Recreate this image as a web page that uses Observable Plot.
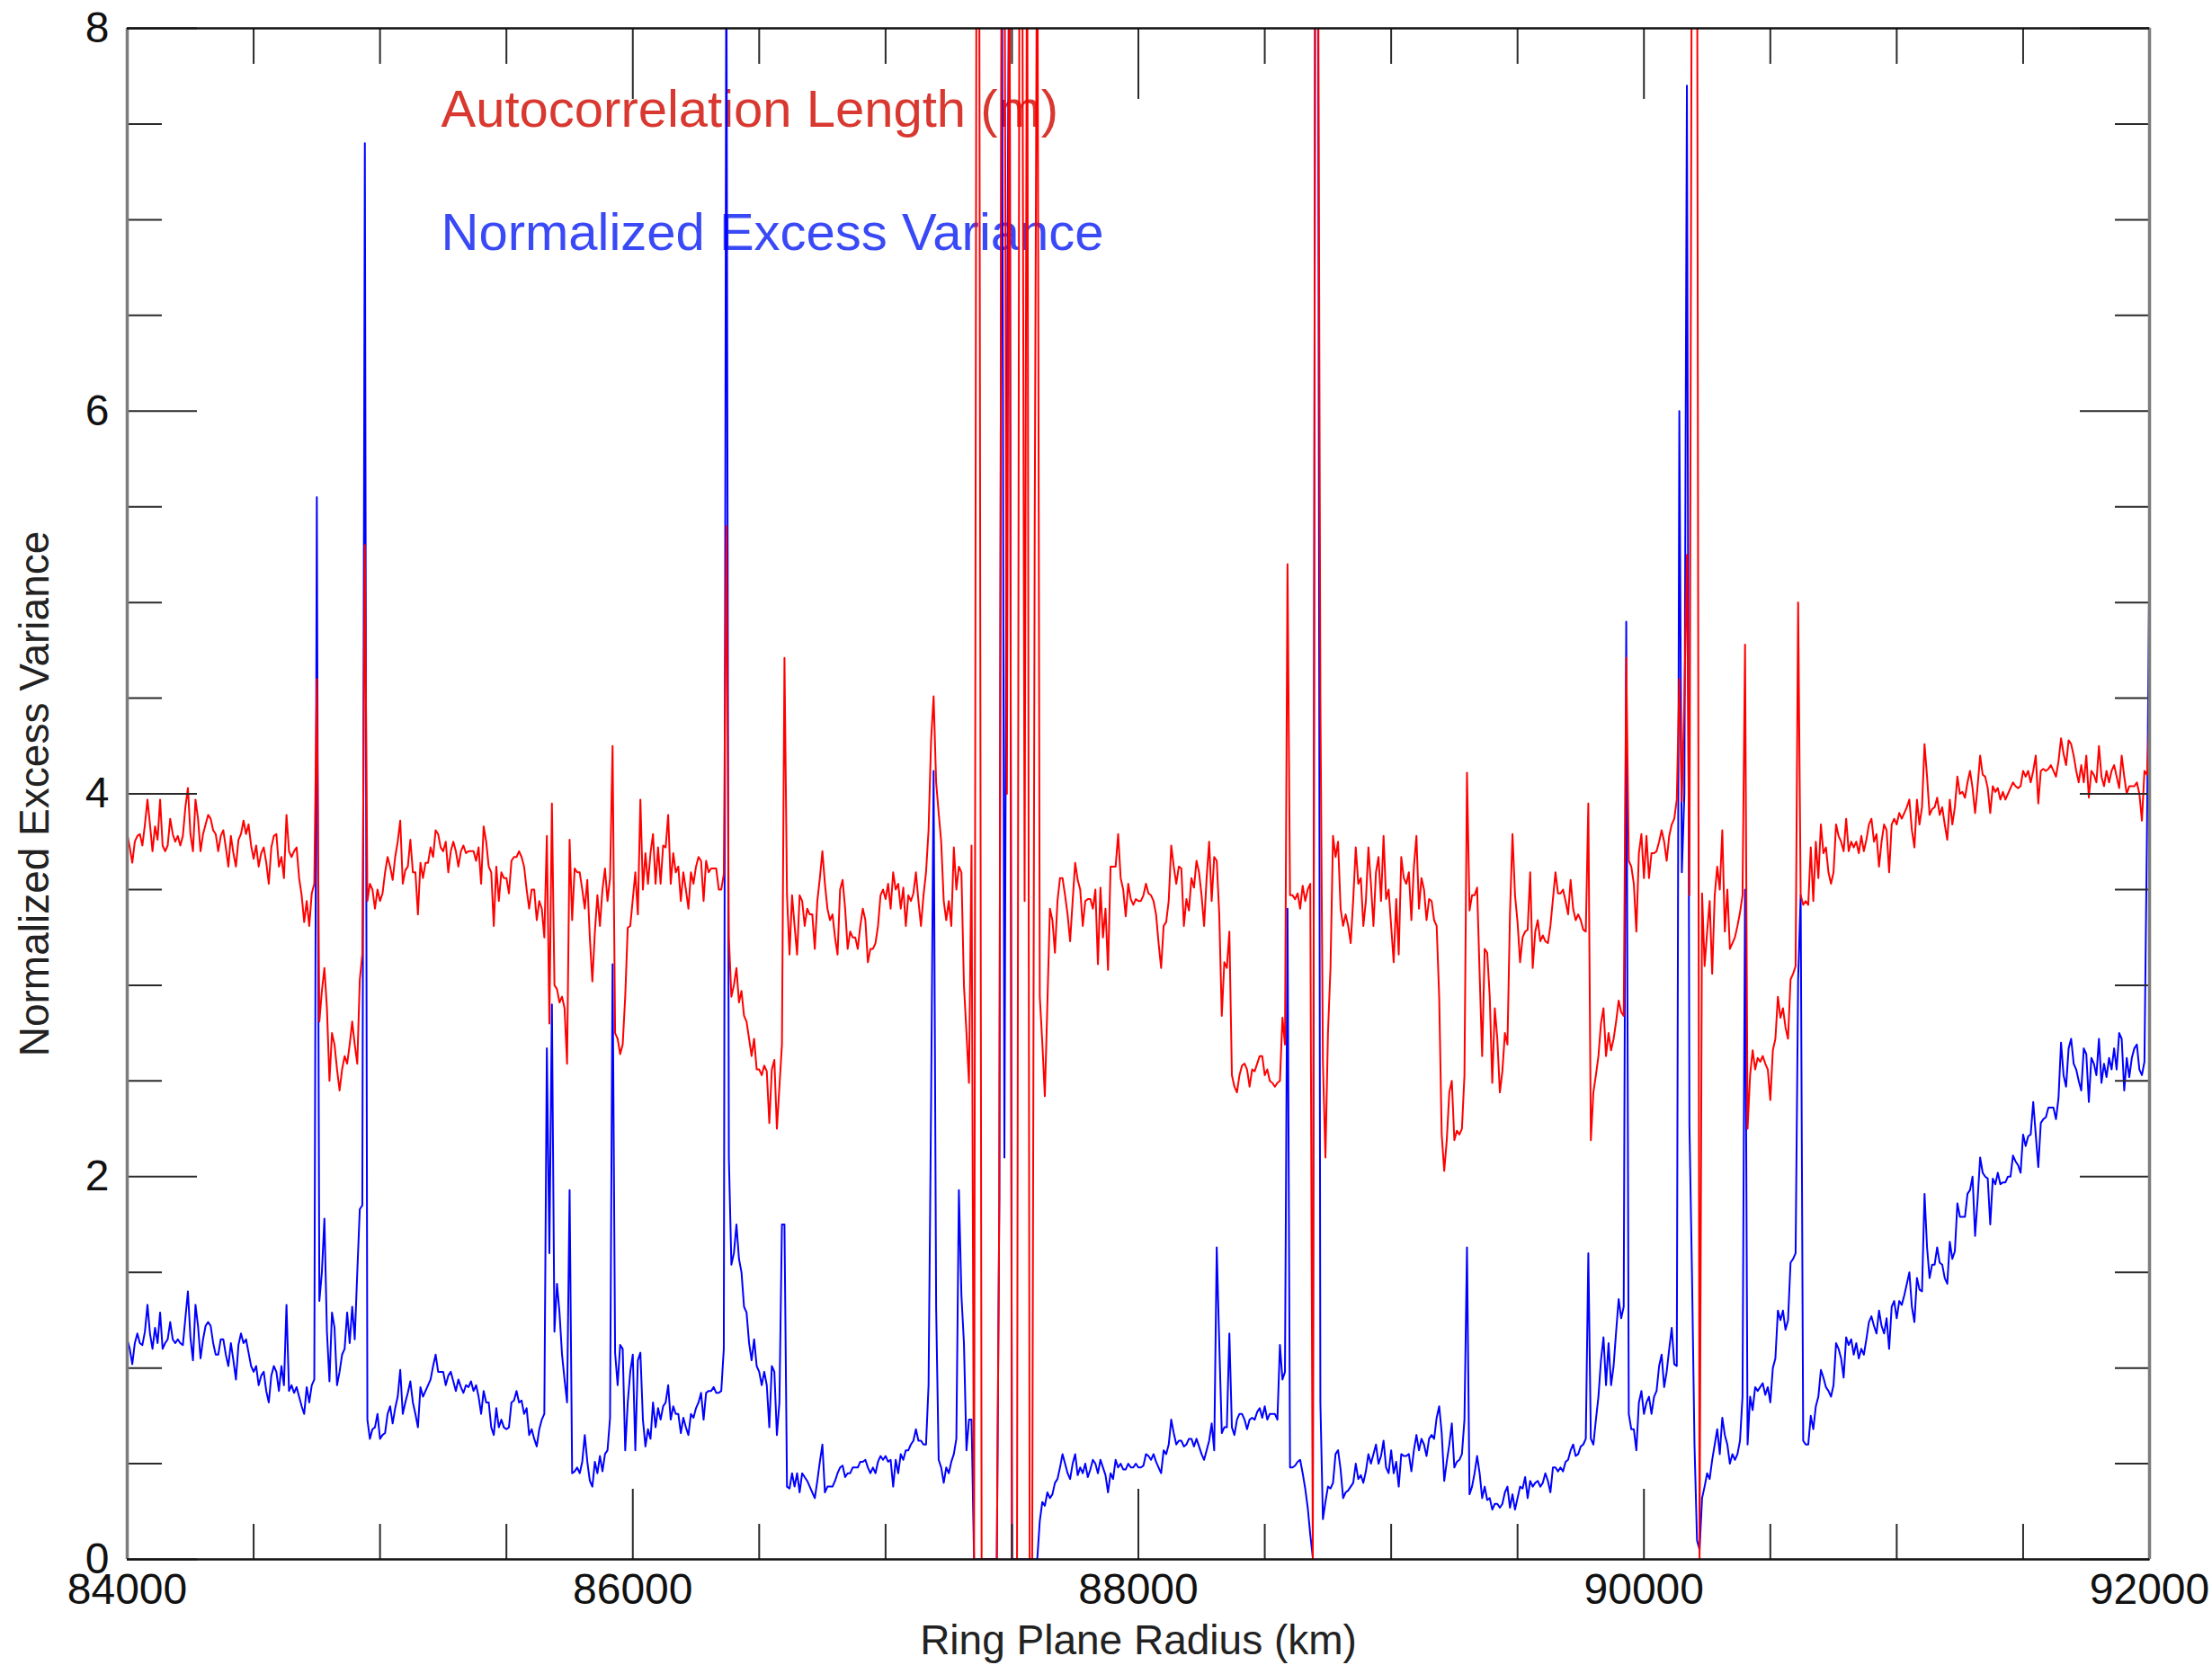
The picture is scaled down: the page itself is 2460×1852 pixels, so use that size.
<!DOCTYPE html>
<html>
<head>
<meta charset="utf-8">
<script src="https://cdn.jsdelivr.net/npm/d3@7"></script>
<script src="https://cdn.jsdelivr.net/npm/@observablehq/plot@0.6"></script>
<style>
  html, body { margin: 0; padding: 0; background: #fff; }
  #chart svg { display: block; }
</style>
</head>
<body>
<div id="chart"></div>
<script>
// Sampling grid of the radial profile (km)
const radiusStart = 84000;
const radiusStep = 10;

// Autocorrelation Length (m) — red
const autocorrLength = [
3.79,3.72,3.64,3.75,3.78,3.79,3.73,3.84,3.97,3.84,
3.70,3.83,3.76,3.97,3.73,3.70,3.73,3.87,3.79,3.75,
3.78,3.73,3.78,3.93,4.03,3.79,3.70,3.97,3.87,3.70,
3.79,3.84,3.89,3.87,3.81,3.79,3.70,3.78,3.81,3.72,
3.62,3.78,3.69,3.62,3.76,3.79,3.86,3.79,3.84,3.73,
3.66,3.73,3.62,3.69,3.72,3.64,3.53,3.72,3.78,3.79,
3.62,3.67,3.56,3.89,3.70,3.67,3.70,3.72,3.56,3.47,
3.33,3.44,3.31,3.48,3.53,4.60,2.81,2.97,3.09,2.88,
2.50,2.75,2.69,2.56,2.45,2.56,2.63,2.59,2.69,2.81,
2.69,2.59,3.03,3.16,5.30,3.44,3.53,3.50,3.40,3.50,
3.44,3.48,3.59,3.67,3.62,3.55,3.67,3.75,3.86,3.53,
3.60,3.62,3.76,3.59,3.59,3.37,3.64,3.56,3.64,3.64,
3.72,3.67,3.81,3.79,3.72,3.70,3.75,3.59,3.70,3.75,
3.70,3.62,3.70,3.73,3.69,3.70,3.70,3.70,3.65,3.72,
3.53,3.83,3.75,3.62,3.59,3.31,3.62,3.44,3.59,3.56,
3.56,3.48,3.65,3.67,3.67,3.70,3.67,3.62,3.50,3.40,
3.50,3.50,3.34,3.44,3.40,3.25,3.78,2.80,3.95,3.00,
2.98,2.91,2.94,2.88,2.59,3.76,3.34,3.61,3.59,3.59,
3.50,3.40,3.55,3.25,3.02,3.28,3.47,3.31,3.50,3.61,
3.44,3.56,4.25,2.75,2.72,2.64,2.69,2.94,3.30,3.31,
3.45,3.59,3.37,3.97,3.50,3.69,3.53,3.69,3.79,3.53,
3.72,3.53,3.73,3.72,3.89,3.53,3.69,3.59,3.62,3.44,
3.59,3.50,3.40,3.59,3.53,3.62,3.67,3.65,3.44,3.65,
3.59,3.61,3.61,3.61,3.50,3.50,3.58,5.40,3.25,2.94,
3.00,3.09,2.91,2.97,2.84,2.81,2.72,2.63,2.72,2.56,
2.56,2.53,2.58,2.55,2.28,2.56,2.61,2.25,2.47,2.69,
4.71,3.47,3.16,3.47,3.31,3.16,3.47,3.44,3.31,3.40,
3.37,3.37,3.19,3.44,3.56,3.70,3.53,3.40,3.34,3.37,
3.25,3.16,3.50,3.55,3.40,3.19,3.28,3.25,3.25,3.19,
3.31,3.40,3.34,3.12,3.19,3.19,3.22,3.31,3.47,3.50,
3.45,3.53,3.40,3.59,3.50,3.53,3.40,3.51,3.31,3.47,
3.44,3.48,3.59,3.44,3.31,3.47,3.59,3.81,4.28,4.51,
4.06,3.90,3.75,3.44,3.34,3.44,3.31,3.72,3.50,3.62,
3.59,3.00,2.75,2.49,3.73,0.00,9.00,9.00,0.00,0.00,
0.00,0.00,0.00,0.00,0.00,1.89,9.00,9.00,4.00,9.00,
0.00,0.00,0.00,9.00,9.00,3.44,9.00,0.00,0.00,5.40,
9.00,2.94,2.70,2.42,2.90,3.40,3.34,3.17,3.44,3.56,
3.56,3.47,3.37,3.23,3.44,3.64,3.55,3.50,3.31,3.44,
3.45,3.45,3.40,3.50,3.11,3.51,3.25,3.40,3.08,3.62,
3.62,3.62,3.79,3.56,3.50,3.36,3.53,3.45,3.42,3.45,
3.44,3.44,3.47,3.53,3.48,3.47,3.44,3.37,3.22,3.09,
3.31,3.33,3.44,3.73,3.62,3.53,3.62,3.61,3.31,3.45,
3.39,3.56,3.51,3.65,3.59,3.47,3.31,3.56,3.75,3.44,
3.67,3.65,3.37,2.84,3.12,3.09,3.28,2.53,2.47,2.44,
2.53,2.58,2.59,2.56,2.47,2.56,2.55,2.59,2.63,2.63,
2.53,2.56,2.50,2.49,2.47,2.49,2.50,2.83,2.69,5.20,
3.47,3.47,3.45,3.48,3.40,3.52,3.44,3.50,3.53,0.00,
9.00,9.00,4.50,2.60,2.10,2.75,3.09,3.78,3.67,3.75,
3.40,3.31,3.37,3.31,3.22,3.45,3.72,3.53,3.56,3.31,
3.44,3.72,3.53,3.31,3.59,3.67,3.44,3.78,3.45,3.50,
3.31,3.12,3.45,3.16,3.67,3.56,3.53,3.59,3.34,3.62,
3.78,3.40,3.56,3.50,3.34,3.45,3.44,3.34,3.31,2.94,
2.22,2.03,2.19,2.44,2.50,2.19,2.24,2.22,2.25,2.53,
4.11,3.39,3.47,3.47,3.51,3.06,2.63,3.19,3.17,2.94,
2.49,2.88,2.72,2.44,2.55,2.75,2.69,3.37,3.79,3.47,
3.33,3.12,3.25,3.28,3.29,3.59,3.09,3.28,3.34,3.23,
3.26,3.23,3.22,3.31,3.45,3.59,3.48,3.48,3.50,3.44,
3.37,3.55,3.40,3.34,3.37,3.34,3.29,3.28,3.95,2.19,
2.44,2.53,2.63,2.80,2.88,2.63,2.75,2.66,2.72,2.81,
2.92,2.86,2.84,4.71,3.65,3.62,3.53,3.28,3.69,3.79,
3.56,3.78,3.56,3.69,3.69,3.70,3.75,3.81,3.75,3.65,
3.78,3.84,3.87,3.97,4.60,3.96,4.50,5.25,3.47,9.00,
9.00,9.00,0.00,3.48,3.10,3.28,3.44,3.06,3.47,3.62,
3.50,3.81,3.28,3.50,3.19,3.22,3.25,3.31,3.38,3.47,
4.78,2.25,2.53,2.66,2.56,2.62,2.60,2.63,2.59,2.56,
2.40,2.66,2.72,2.94,2.83,2.88,2.78,2.72,3.03,3.06,
3.10,5.00,3.47,3.42,3.44,3.42,3.72,3.44,3.75,3.56,
3.84,3.69,3.72,3.59,3.53,3.59,3.84,3.78,3.75,3.70,
3.87,3.70,3.75,3.72,3.75,3.69,3.78,3.70,3.76,3.84,
3.87,3.75,3.79,3.62,3.75,3.84,3.81,3.59,3.84,3.87,
3.84,3.90,3.87,3.90,3.93,3.97,3.81,3.72,3.97,3.84,
3.93,4.26,4.09,3.89,3.92,3.93,3.98,3.89,3.93,3.84,
3.76,3.97,3.84,3.93,4.09,4.00,4.01,3.98,4.06,4.12,
4.03,3.90,4.04,4.20,4.10,4.09,4.03,3.90,4.04,4.01,
4.03,3.97,4.01,3.97,4.00,4.03,4.06,4.04,4.03,4.04,
4.12,4.09,4.12,4.06,4.12,4.20,3.95,4.12,4.13,4.12,
4.13,4.15,4.12,4.09,4.17,4.29,4.21,4.15,4.28,4.26,
4.20,4.12,4.06,4.15,4.06,4.20,3.98,4.12,4.10,4.06,
4.25,4.09,4.04,4.12,4.06,4.12,4.15,4.09,4.03,4.20,
4.09,4.00,4.04,4.04,4.04,4.06,4.00,3.86,4.12,4.10,
4.40
];

// Normalized Excess Variance — blue
const excessVariance = [
1.15,1.10,1.02,1.13,1.18,1.13,1.12,1.19,1.33,1.18,
1.10,1.21,1.13,1.29,1.10,1.13,1.15,1.24,1.15,1.13,
1.15,1.13,1.12,1.26,1.40,1.16,1.04,1.33,1.22,1.05,
1.15,1.22,1.24,1.22,1.13,1.07,1.07,1.15,1.15,1.07,
1.01,1.13,1.04,0.94,1.12,1.18,1.13,1.15,1.08,1.01,
0.98,1.01,0.91,0.96,0.98,0.88,0.82,0.96,1.01,0.98,
0.88,1.01,0.91,1.33,0.88,0.91,0.87,0.90,0.85,0.80,
0.76,0.90,0.82,0.91,0.94,5.55,1.35,1.50,1.78,1.19,
0.93,1.29,1.21,0.91,0.98,1.07,1.10,1.29,1.13,1.32,
1.15,1.50,1.83,1.85,7.40,0.73,0.63,0.68,0.69,0.76,
0.63,0.65,0.66,0.76,0.80,0.71,0.79,0.85,0.99,0.76,
0.82,0.87,0.93,0.82,0.76,0.69,0.90,0.85,0.88,0.91,
0.94,1.01,1.07,0.98,0.98,0.98,0.91,0.96,0.98,0.93,
0.88,0.94,0.90,0.87,0.91,0.90,0.93,0.88,0.91,0.85,
0.76,0.88,0.82,0.82,0.69,0.65,0.79,0.69,0.73,0.69,
0.68,0.69,0.82,0.83,0.88,0.82,0.83,0.76,0.79,0.65,
0.68,0.63,0.59,0.68,0.73,0.76,2.67,1.60,2.90,1.19,
1.44,1.29,1.07,0.94,0.82,1.93,0.45,0.46,0.48,0.45,
0.51,0.65,0.51,0.41,0.38,0.51,0.45,0.54,0.46,0.55,
0.57,0.74,3.11,1.08,0.91,1.12,1.10,0.57,0.82,0.98,
1.07,0.57,1.04,1.08,0.73,0.59,0.68,0.63,0.82,0.69,
0.79,0.73,0.80,0.82,0.91,0.73,0.80,0.76,0.76,0.66,
0.74,0.69,0.65,0.76,0.74,0.79,0.82,0.87,0.73,0.87,
0.88,0.88,0.90,0.87,0.87,0.88,1.10,8.60,2.10,1.54,
1.60,1.75,1.57,1.50,1.32,1.29,1.13,1.04,1.15,1.01,
0.98,0.91,0.98,0.91,0.69,1.01,0.98,0.65,0.82,1.75,
1.75,0.38,0.37,0.45,0.38,0.45,0.35,0.45,0.43,0.41,
0.38,0.35,0.32,0.41,0.51,0.60,0.35,0.38,0.38,0.38,
0.41,0.45,0.48,0.49,0.43,0.45,0.45,0.48,0.48,0.48,
0.51,0.51,0.52,0.48,0.45,0.48,0.45,0.51,0.54,0.52,
0.54,0.51,0.52,0.38,0.52,0.45,0.55,0.52,0.57,0.57,
0.60,0.62,0.68,0.62,0.62,0.60,0.60,0.91,2.38,4.12,
1.32,0.52,0.48,0.40,0.48,0.45,0.51,0.55,0.63,1.93,
1.38,1.13,0.57,0.73,0.73,0.00,0.00,0.00,0.00,0.00,
0.00,0.00,0.00,0.00,0.00,1.89,9.00,2.10,6.00,9.00,
0.00,0.00,0.00,0.00,0.00,0.00,0.00,0.00,0.00,0.00,
0.00,0.20,0.30,0.28,0.35,0.32,0.34,0.40,0.42,0.48,
0.55,0.50,0.45,0.42,0.50,0.55,0.44,0.48,0.45,0.50,
0.43,0.47,0.52,0.50,0.45,0.52,0.48,0.44,0.35,0.45,
0.42,0.52,0.48,0.50,0.47,0.47,0.50,0.48,0.48,0.50,
0.48,0.48,0.49,0.55,0.54,0.52,0.55,0.51,0.48,0.45,
0.57,0.55,0.60,0.73,0.66,0.60,0.62,0.62,0.59,0.60,
0.63,0.63,0.59,0.63,0.59,0.55,0.52,0.57,0.62,0.71,
0.57,1.63,1.13,0.66,0.69,0.69,1.18,0.69,0.65,0.73,
0.76,0.76,0.73,0.68,0.73,0.74,0.73,0.77,0.79,0.74,
0.80,0.73,0.76,0.76,0.76,0.73,1.12,0.94,0.98,3.40,
0.48,0.48,0.49,0.51,0.52,0.45,0.37,0.27,0.13,0.01,
9.00,9.00,0.82,0.21,0.30,0.38,0.37,0.40,0.55,0.57,
0.47,0.32,0.35,0.36,0.38,0.40,0.50,0.42,0.44,0.40,
0.46,0.55,0.50,0.55,0.60,0.50,0.54,0.62,0.48,0.45,
0.57,0.45,0.51,0.38,0.55,0.54,0.54,0.55,0.46,0.57,
0.65,0.57,0.63,0.60,0.54,0.63,0.65,0.63,0.74,0.80,
0.66,0.41,0.51,0.60,0.71,0.48,0.51,0.52,0.55,0.73,
1.63,0.34,0.38,0.45,0.54,0.45,0.32,0.38,0.31,0.32,
0.26,0.29,0.29,0.27,0.29,0.35,0.38,0.27,0.34,0.26,
0.32,0.38,0.37,0.43,0.32,0.41,0.38,0.40,0.41,0.38,
0.40,0.45,0.41,0.35,0.48,0.48,0.46,0.48,0.46,0.51,
0.52,0.57,0.60,0.54,0.55,0.59,0.60,0.63,1.60,0.63,
0.60,0.73,0.85,1.04,1.16,0.91,1.13,0.91,1.01,1.19,
1.36,1.26,1.32,4.90,0.76,0.68,0.68,0.57,0.82,0.88,
0.76,0.82,0.85,0.76,0.85,0.88,1.01,1.07,0.90,0.98,
1.10,1.21,1.02,1.01,6.00,3.59,4.00,7.70,2.27,1.50,
0.60,0.10,0.05,0.32,0.38,0.45,0.42,0.52,0.60,0.68,
0.55,0.74,0.65,0.60,0.50,0.55,0.52,0.55,0.62,0.85,
3.50,0.60,0.85,0.78,0.90,0.88,0.90,0.92,0.86,0.90,
0.82,1.00,1.05,1.30,1.25,1.30,1.20,1.25,1.55,1.57,
1.60,3.03,3.47,0.62,0.60,0.60,0.75,0.68,0.80,0.85,
0.99,0.95,0.90,0.88,0.85,0.91,1.13,1.10,1.05,0.95,
1.16,1.12,1.15,1.07,1.13,1.05,1.10,1.07,1.15,1.24,
1.27,1.22,1.18,1.30,1.22,1.18,1.26,1.10,1.32,1.35,
1.26,1.35,1.33,1.38,1.44,1.50,1.32,1.24,1.47,1.41,
1.40,1.91,1.63,1.47,1.54,1.54,1.63,1.55,1.54,1.47,
1.44,1.66,1.57,1.61,1.86,1.79,1.79,1.79,1.91,1.93,
2.00,1.69,1.88,2.10,2.02,2.00,1.99,1.75,1.99,1.96,
2.02,1.96,1.97,1.97,2.00,2.00,2.11,2.08,2.06,2.02,
2.22,2.16,2.21,2.22,2.39,2.22,2.05,2.28,2.30,2.31,
2.36,2.36,2.36,2.30,2.41,2.70,2.53,2.47,2.67,2.72,
2.59,2.56,2.50,2.45,2.67,2.64,2.39,2.62,2.59,2.53,
2.72,2.49,2.59,2.52,2.62,2.56,2.67,2.56,2.75,2.72,
2.45,2.62,2.52,2.62,2.67,2.69,2.56,2.53,2.60,3.80,
5.30
];

// Axis ticks and texts
const xMajorTicks = [84000, 86000, 88000, 90000, 92000];
const xMinorTicks = [84500, 85000, 85500, 86500, 87000, 87500, 88500, 89000, 89500, 90500, 91000, 91500];
const yMajorTicks = [0, 2, 4, 6, 8];
const yMinorTicks = [0.5, 1, 1.5, 2.5, 3, 3.5, 4.5, 5, 5.5, 6.5, 7, 7.5];
const xTitle = "Ring Plane Radius (km)";
const yTitle = "Normalized Excess Variance";
const seriesNames = ["Autocorrelation Length (m)", "Normalized Excess Variance"];

const toRows = (vals) => vals.map((v, i) => ({radius: radiusStart + i * radiusStep, value: v}));
const redRows = toRows(autocorrLength);
const blueRows = toRows(excessVariance);

const FONT = "'Liberation Sans', Arial, Helvetica, sans-serif";
const tickCol = "#2a2a2a";
const majorLen = 78, minorLen = 39;

const tickAxes = [];
for (const [anchor, ticks, len] of [["left", yMajorTicks, majorLen], ["left", yMinorTicks, minorLen], ["right", yMajorTicks, majorLen], ["right", yMinorTicks, minorLen]]) {
  tickAxes.push(Plot.axisY(ticks, {anchor, tickSize: -len, tickFormat: () => "", label: null, stroke: tickCol, strokeWidth: 2}));
}
for (const [anchor, ticks, len] of [["bottom", xMajorTicks, majorLen], ["bottom", xMinorTicks, minorLen], ["top", xMajorTicks, majorLen], ["top", xMinorTicks, minorLen]]) {
  tickAxes.push(Plot.axisX(ticks, {anchor, tickSize: -len, tickFormat: () => "", label: null, stroke: tickCol, strokeWidth: 2}));
}

const chart = Plot.plot({
  width: 2460,
  height: 1852,
  marginLeft: 141,
  marginRight: 70,
  marginTop: 31,
  marginBottom: 118,
  style: {fontFamily: FONT, fontSize: "48px", color: "#111", background: "#fff", overflow: "visible"},
  x: {domain: [84000, 92000]},
  y: {domain: [0, 8]},
  marks: [
    Plot.text([seriesNames[0]], {text: d => d, frameAnchor: "top-left", dx: 349, dy: 91, textAnchor: "start", lineAnchor: "middle", fill: "#d8382f", fontSize: 58}),
    Plot.text([seriesNames[1]], {text: d => d, frameAnchor: "top-left", dx: 349, dy: 228, textAnchor: "start", lineAnchor: "middle", fill: "#3a49f6", fontSize: 58}),
    Plot.line(blueRows, {x: "radius", y: "value", stroke: "#0000ff", strokeWidth: 2, clip: true}),
    Plot.line(redRows, {x: "radius", y: "value", stroke: "#ff0000", strokeWidth: 2, clip: true}),
    ...tickAxes,
    Plot.axisY(yMajorTicks, {anchor: "left", tickSize: 0, tickPadding: 20, tickFormat: d3.format("d"), label: null, fill: "#111"}),
    Plot.axisX(xMajorTicks, {anchor: "bottom", tickSize: 0, tickPadding: 15, tickFormat: d3.format("d"), label: null, fill: "#111"}),
    Plot.ruleX([84000, 92000], {stroke: "#7c7c7c", strokeWidth: 3.5}),
    Plot.ruleY([0, 8], {stroke: "#111", strokeWidth: 2.5}),
    Plot.text([xTitle], {text: d => d, frameAnchor: "bottom", dy: 91, textAnchor: "middle", lineAnchor: "middle", fontSize: 46, fill: "#222"}),
    Plot.text([yTitle], {text: d => d, frameAnchor: "left", dx: -102, rotate: -90, textAnchor: "middle", lineAnchor: "middle", fontSize: 46, fill: "#222"})
  ]
});
document.getElementById("chart").appendChild(chart);
</script>
</body>
</html>
